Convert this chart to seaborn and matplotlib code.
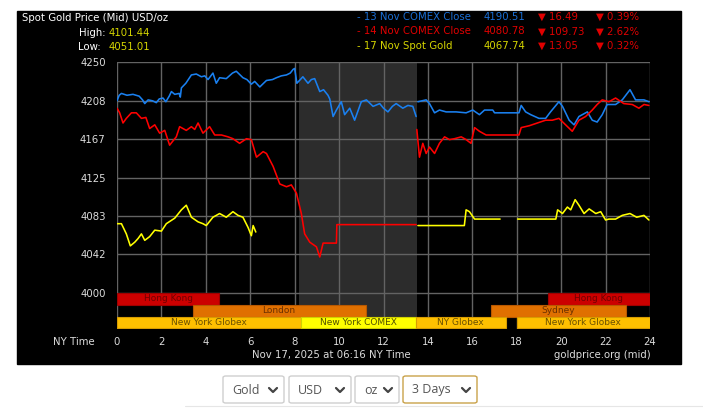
# Spot gold 3-day chart (NY time) - recreated with seaborn / matplotlib
import numpy as np
import pandas as pd
import seaborn as sns
import matplotlib.pyplot as plt
from matplotlib.patches import Rectangle, FancyBboxPatch
from matplotlib.lines import Line2D

W, H = 703, 408
nan = np.nan

# ── data (hours NY time, price USD/oz); nan = break in the line ──
blue_x = [0.0, 0.1, 0.2, 0.45, 0.72, 1.0, 1.15, 1.25, 1.4, 1.6, 1.77, 1.9, 2.07, 2.2, 2.35, 2.45,
          2.6, 2.8, 2.85, 2.9, 3.1, 3.35, 3.57, 3.8, 3.95, 4.1, 4.32, 4.47, 4.62, 4.92, 5.2, 5.37,
          5.5, 5.67, 5.85, 6.05, 6.2, 6.43, 6.6, 6.73, 7.0, 7.18, 7.4, 7.63, 7.8, 7.93, 8.0, 8.1,
          8.37, 8.6, 8.75, 8.9, 9.13, 9.3, 9.5, 9.58, 9.73, 9.88, 10.1, 10.25, 10.48, 10.7, 11.0,
          11.23, 11.53, 11.83, 12.0, 12.2, 12.4, 12.57, 12.87, 13.1, 13.32, 13.47, nan,
          13.55, 13.92, 14.07, 14.3, 14.52, 14.82, 15.27, 15.72, 16.02, 16.32, 16.55, 16.92, 17.0,
          18.1, 18.2, 18.4, 18.63, 19.0, 19.3, 19.52, 19.9, 20.06, 20.36, 20.58, 20.8, 21.18, 21.4,
          21.62, 21.85, 22.07, 22.45, 22.75, 23.1, 23.35, 23.73, 23.95]
blue_y = [4208, 4214, 4216, 4214, 4215, 4213, 4209, 4205, 4209, 4208, 4206, 4210, 4211, 4207, 4213, 4218,
          4215, 4216, 4212, 4222, 4227, 4236, 4237, 4234, 4235, 4231, 4238, 4227, 4233, 4232, 4238, 4240,
          4237, 4233, 4231, 4226, 4229, 4223, 4227, 4230, 4231, 4233, 4235, 4236, 4238, 4242, 4243, 4227,
          4234, 4227, 4231, 4232, 4218, 4220, 4214, 4210, 4191, 4198, 4207, 4193, 4200, 4187, 4207,
          4209, 4202, 4205, 4200, 4196, 4202, 4205, 4200, 4203, 4202, 4191, nan,
          4207, 4209, 4205, 4195, 4198, 4196, 4196, 4195, 4198, 4193, 4198, 4198, 4195,
          4195, 4203, 4196, 4193, 4189, 4189, 4196, 4207, 4202, 4187, 4182, 4191, 4196, 4187,
          4185, 4193, 4204, 4204, 4209, 4220, 4209, 4209, 4207]

red_x = [0.0, 0.12, 0.27, 0.42, 0.65, 0.87, 1.1, 1.3, 1.47, 1.7, 1.92, 2.15, 2.37, 2.5, 2.67, 2.82,
         3.12, 3.35, 3.5, 3.65, 3.87, 4.17, 4.4, 4.7, 5.0, 5.22, 5.52, 5.83, 6.05, 6.28, 6.58, 6.73,
         7.03, 7.33, 7.63, 7.85, 8.08, 8.3, 8.45, 8.68, 8.98, 9.13, 9.28, 9.88, 9.9, 13.47, nan,
         13.5, 13.62, 13.77, 13.92, 14.07, 14.3, 14.52, 14.75, 14.97, 15.2, 15.5, 15.72, 15.94, 16.1,
         16.32, 16.62, 16.92, 18.1, 18.2, 18.56, 18.93, 19.3, 19.6, 19.9, 20.2, 20.5, 20.8, 21.1,
         21.4, 21.62, 21.85, 22.15, 22.45, 22.82, 23.2, 23.5, 23.73, 23.95]
red_y = [4200, 4195, 4184, 4189, 4195, 4195, 4189, 4190, 4178, 4182, 4173, 4176, 4160, 4164, 4169, 4180,
         4176, 4180, 4177, 4184, 4173, 4180, 4171, 4171, 4169, 4167, 4162, 4167, 4166, 4147, 4153, 4151,
         4137, 4118, 4115, 4117, 4108, 4086, 4064, 4055, 4050, 4039, 4054, 4054, 4074, 4074, nan,
         4177, 4147, 4162, 4151, 4158, 4151, 4162, 4169, 4166, 4167, 4169, 4166, 4162, 4179,
         4175, 4171, 4171, 4171, 4179, 4181, 4184, 4187, 4187, 4189, 4182, 4175, 4187, 4191,
         4198, 4204, 4209, 4207, 4211, 4205, 4204, 4200, 4204, 4203]

yellow_x = [0.0, 0.2, 0.42, 0.6, 0.8, 0.95, 1.1, 1.25, 1.47, 1.7, 2.0, 2.22, 2.6, 2.9, 3.12, 3.35,
            3.65, 3.87, 4.02, 4.32, 4.62, 4.92, 5.22, 5.45, 5.67, 5.9, 6.05, 6.13, 6.25, nan,
            13.55, 15.64, 15.72, 15.87, 16.1, 17.25, nan,
            18.04, 19.76, 19.84, 20.06, 20.28, 20.43, 20.63, 20.8, 21.03, 21.26, 21.56, 21.78, 22.0,
            22.15, 22.45, 22.75, 23.1, 23.4, 23.73, 23.95]
yellow_y = [4075, 4075, 4064, 4051, 4055, 4059, 4064, 4057, 4061, 4068, 4067, 4075, 4081, 4090, 4095, 4082,
            4077, 4075, 4073, 4082, 4086, 4082, 4088, 4084, 4082, 4071, 4062, 4073, 4066, nan,
            4073, 4073, 4090, 4088, 4080, 4080, nan,
            4080, 4080, 4090, 4086, 4093, 4090, 4101, 4095, 4086, 4091, 4086, 4088, 4079,
            4080, 4080, 4084, 4086, 4082, 4084, 4079]

series_names = ['13 Nov COMEX Close', '14 Nov COMEX Close', '17 Nov Spot Gold']
series_close = ['4190.51', '4080.78', '4067.74']
series_chg = ['16.49', '109.73', '13.05']
series_pct = ['0.39%', '2.62%', '0.32%']
high_val, low_val = '4101.44', '4051.01'

y_ticks = [4000, 4041.67, 4083.33, 4125, 4166.67, 4208.33, 4250]
y_labels = ['4000', '4042', '4083', '4125', '4167', '4208', '4250']
x_ticks = list(range(0, 25, 2))

# trading sessions: name, start, end, row
sess_name = ['Hong Kong', 'Hong Kong', 'London', 'Sydney', 'New York Globex', 'New York COMEX',
             'NY Globex', 'New York Globex']
sess_start = [0.0, 19.4, 3.4, 16.85, 0.0, 8.3, 13.45, 18.0]
sess_end = [4.6, 24.0, 11.2, 22.9, 8.3, 13.45, 17.5, 24.0]
sess_row = [0, 0, 1, 1, 2, 2, 2, 2]

dropdowns = ['Gold', 'USD', 'oz', '3 Days']

# ── build long table for seaborn ──
def to_frame(xs, ys, name):
    rows, seg = [], 0
    for x, y in zip(xs, ys):
        if np.isnan(x):
            seg += 1
            continue
        rows.append((x, y, name, f'{name}-{seg}'))
    return pd.DataFrame(rows, columns=['hora', 'precio', 'serie', 'seg'])

df = pd.concat([to_frame(blue_x, blue_y, series_names[0]),
                to_frame(red_x, red_y, series_names[1]),
                to_frame(yellow_x, yellow_y, series_names[2])], ignore_index=True)

LINE_COL = {series_names[0]: '#1a80f0', series_names[1]: '#ff0000', series_names[2]: '#ffff00'}
TXT_COL = ['#1a6fd6', '#e00000', '#d6d600']
GRID = '#636363'
LBL = '#dcdcdc'
FS = 7.3

sns.set_style('dark')
plt.rcParams['font.family'] = ['DejaVu Sans']

fig = plt.figure(figsize=(W / 100, H / 100), dpi=100, facecolor='white')

def fx(px):
    return px / W

def fy(py):
    return 1 - py / H

# black panel behind everything
fig.patches.append(Rectangle((fx(17), fy(364)), fx(681) - fx(17), fy(11) - fy(364),
                             transform=fig.transFigure, color='black', zorder=-5))

ax = fig.add_axes([fx(117), fy(329), fx(650) - fx(117), fy(62) - fy(329)], facecolor='black')
ax.set_zorder(2)
ax.set_xlim(0, 24)
ax.set_ylim(4250 - 267 / 0.924, 4250)

ax.axvspan(8.2, 13.5, color='#2c2c2c', zorder=0.2, lw=0)
ax.set_axisbelow(True)
ax.grid(True, color=GRID, linewidth=1.0)

sns.lineplot(data=df, x='hora', y='precio', hue='serie', units='seg', estimator=None,
             sort=False, palette=LINE_COL, legend=False, linewidth=1.15, ax=ax, zorder=3)

# session bars
row_h = 12.8
bar_fill = {'Hong Kong': '#cc0000', 'London': '#e07000', 'Sydney': '#e07000',
            'New York Globex': '#ffc000', 'NY Globex': '#ffc000', 'New York COMEX': '#ffff00'}
bar_edge = {'Hong Kong': '#a00000', 'London': '#b85800', 'Sydney': '#b85800',
            'New York Globex': '#d89c00', 'NY Globex': '#d89c00', 'New York COMEX': '#d0d000'}
bar_txt = {'Hong Kong': '#700000', 'London': '#6a3000', 'Sydney': '#6a3000',
           'New York Globex': '#6a5000', 'NY Globex': '#6a5000', 'New York COMEX': '#505000'}
for name, s, e, r in zip(sess_name, sess_start, sess_end, sess_row):
    top = 4000 - r * row_h
    ax.barh(top - row_h / 2, e - s, left=s, height=row_h, color=bar_fill[name],
            edgecolor=bar_edge[name], linewidth=0.8, zorder=2)
    ax.text((s + e) / 2, top - row_h / 2, name, ha='center', va='center',
            fontsize=6.5, color=bar_txt[name], zorder=4)

ax.set_xticks(x_ticks)
ax.set_xticklabels([str(t) for t in x_ticks])
ax.set_yticks(y_ticks)
ax.set_yticklabels(y_labels)
ax.tick_params(axis='both', colors=GRID, labelcolor=LBL, labelsize=FS, length=3.6, width=1.0)
ax.tick_params(axis='y', pad=4.5)
ax.tick_params(axis='x', pad=2.5)
ax.set_xlabel('')
ax.set_ylabel('')
for sp in ax.spines.values():
    sp.set_visible(False)

# header texts
fig.text(fx(22), fy(18), 'Spot Gold Price (Mid) USD/oz', color='white', fontsize=FS, va='center')
fig.text(fx(106), fy(33), 'High:', color='white', fontsize=FS, va='center', ha='right')
fig.text(fx(109), fy(33), high_val, color=TXT_COL[2], fontsize=FS, va='center')
fig.text(fx(101), fy(47), 'Low:', color='white', fontsize=FS, va='center', ha='right')
fig.text(fx(109), fy(47), low_val, color=TXT_COL[2], fontsize=FS, va='center')

for i, name in enumerate(series_names):
    yy = fy(17 + i * 14.5)
    fig.text(fx(357), yy, '- ' + name, color=TXT_COL[i], fontsize=FS, va='center')
    fig.text(fx(484), yy, series_close[i], color=TXT_COL[i], fontsize=FS, va='center')
    fig.text(fx(538), yy, '\u25bc ' + series_chg[i], color='#e00000', fontsize=FS, va='center')
    fig.text(fx(596), yy, '\u25bc ' + series_pct[i], color='#e00000', fontsize=FS, va='center')

# footer texts
fig.text(fx(95), fy(342), 'NY Time', color=LBL, fontsize=FS, va='center', ha='right')
fig.text(fx(331), fy(355), 'Nov 17, 2025 at 06:16 NY Time', color=LBL, fontsize=FS,
         va='center', ha='center')
fig.text(fx(651), fy(355), 'goldprice.org (mid)', color=LBL, fontsize=FS, va='center', ha='right')

# dropdown selectors below the chart
dd_left = [223, 289, 355, 403]
dd_right = [284, 351, 399, 477]
for lab, l, r in zip(dropdowns, dd_left, dd_right):
    edge = '#c9a24a' if lab == '3 Days' else '#cfcfcf'
    fig.patches.append(FancyBboxPatch((fx(l), fy(403)), fx(r) - fx(l), fy(376) - fy(403),
                                      boxstyle='round,pad=0,rounding_size=0.004',
                                      transform=fig.transFigure, facecolor='white',
                                      edgecolor=edge, linewidth=1.0))
    fig.text(fx(l + 9), fy(390), lab, color='#555555', fontsize=9, va='center',
             family=['Open Sans', 'DejaVu Sans'])
    cx = r - 11
    fig.lines.append(Line2D([fx(cx - 4), fx(cx), fx(cx + 4)], [fy(388), fy(392), fy(388)],
                            transform=fig.transFigure, color='#444444', linewidth=1.6))

fig.lines.append(Line2D([fx(185), fx(703)], [fy(406), fy(406)], transform=fig.transFigure,
                        color='#e6e6e6', linewidth=0.8))

fig.savefig('out.png', dpi=100, facecolor='white')
